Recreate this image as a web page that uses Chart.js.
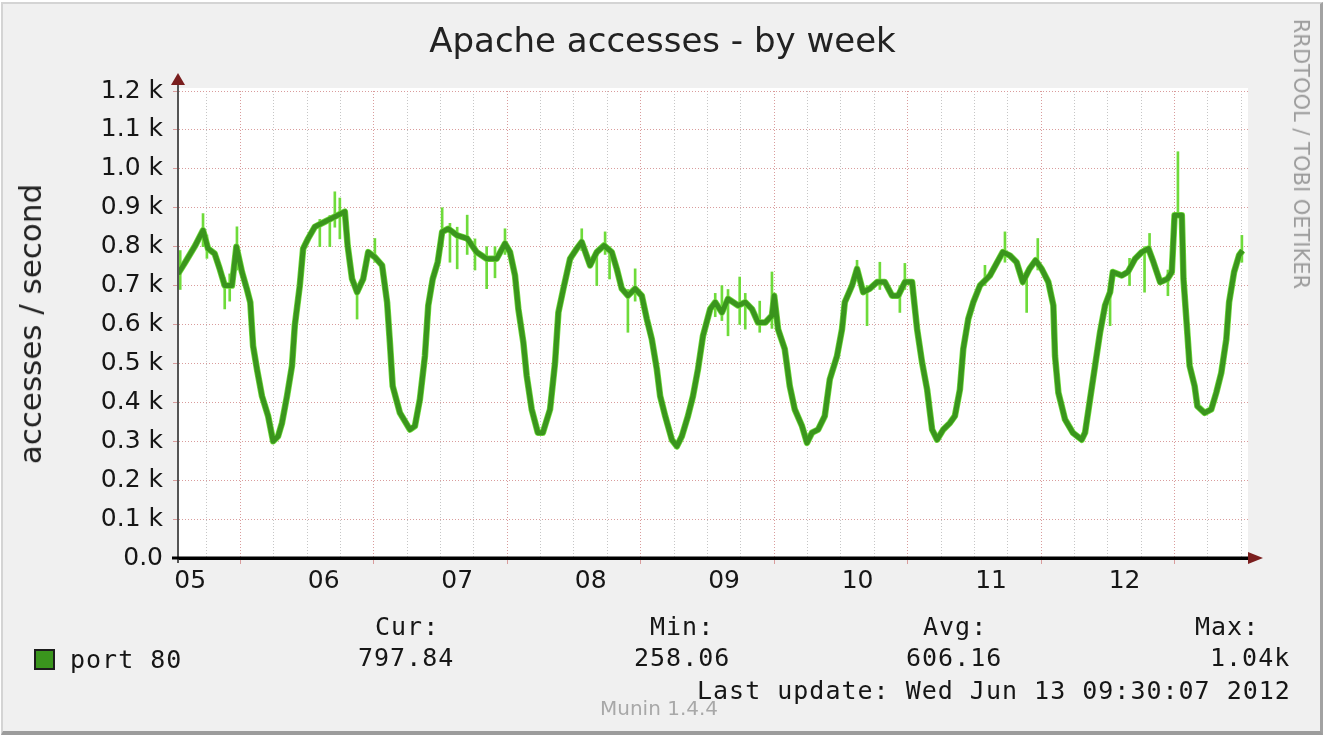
<!DOCTYPE html>
<html>
<head>
<meta charset="utf-8">
<title>Apache accesses - by week</title>
<script src="https://cdn.jsdelivr.net/npm/chart.js@4.4.1/dist/chart.umd.min.js"></script>
<style>
  html, body { margin: 0; padding: 0; background: #fff; }
  #frame { position: relative; width: 1325px; height: 736px; overflow: hidden; }
  #bg {
    position: absolute; left: 1px; top: 2px; width: 1317px; height: 727px;
    background: #f0f0f0;
    border-top: 2px solid #d4d4d4; border-left: 2px solid #d4d4d4;
    border-right: 3px solid #a2a2a2; border-bottom: 4px solid #9c9c9c;
  }
  canvas { position: absolute; left: 0; top: 0; }
  .t { position: absolute; white-space: pre; color: #161616; }
  .sans { font-family: "DejaVu Sans", sans-serif; }
  .mono { font-family: "DejaVu Sans Mono", monospace; font-size: 25px; letter-spacing: 1px; line-height: 30px; }
  #title { left: 0; top: 20px; width: 1325px; text-align: center; font-size: 34px; line-height: 40px; color: #222; }
  #ytitle { left: 30px; top: 324px; font-size: 31px; line-height: 34px; color: #222; transform: translate(-50%, -50%) rotate(-90deg); }
  #rrd { left: 1301px; top: 154px; font-size: 21px; line-height: 24px; color: #9c9c9c; transform: translate(-50%, -50%) rotate(90deg); }
  #munin { left: 600px; top: 696px; font-size: 20px; line-height: 24px; color: #a8a8a8; }
  #box { position: absolute; left: 34px; top: 649px; width: 21px; height: 21px; box-sizing: border-box; background: #3a951d; border: 2px solid #1c1c1c; }
</style>
</head>
<body>
<div id="frame">
  <div id="bg"></div>
  <canvas id="myChart" width="1325" height="736"></canvas>
  <div class="t sans" id="title">Apache accesses - by week</div>
  <div class="t sans" id="ytitle">accesses / second</div>
  <div class="t sans" id="rrd">RRDTOOL / TOBI OETIKER</div>
  <div id="box"></div>
  <div class="t mono" style="left:70px; top:645px;">port 80</div>
  <div class="t mono" style="left:375px; top:612px;">Cur:</div>
  <div class="t mono" style="left:358px; top:643px;">797.84</div>
  <div class="t mono" style="left:650px; top:612px;">Min:</div>
  <div class="t mono" style="left:634px; top:643px;">258.06</div>
  <div class="t mono" style="left:923px; top:612px;">Avg:</div>
  <div class="t mono" style="left:906px; top:643px;">606.16</div>
  <div class="t mono" style="left:1195px; top:612px;">Max:</div>
  <div class="t mono" style="left:1210px; top:643px;">1.04k</div>
  <div class="t mono" style="left:697px; top:676px;">Last update: Wed Jun 13 09:30:07 2012</div>
  <div class="t sans" id="munin">Munin 1.4.4</div>
</div>
<script>
/* global Chart */

// hours since Jun 05 00:00
const hours = [
  9.8, 11.1, 12.9, 14.3, 15.2, 16.4, 17.3, 18.2, 19.5, 20.3, 21.3, 22.2, 22.8, 23.3,
  24.0, 24.9, 26.0, 26.9, 27.8, 28.5, 29.4, 30.3, 30.8, 31.7, 32.3, 33.2, 34.4, 36.2,
  38.0, 39.8, 40.3, 41.1, 42.0, 43.1, 44.0, 45.2, 46.5, 47.4, 47.9,
  48.4, 49.7, 51.5, 52.4, 53.3, 54.2, 54.8, 55.6, 56.5, 57.3, 58.4, 60.0, 61.8, 63.5,
  65.3, 67.1, 68.6, 69.5, 70.4, 71.0, 71.9,
  72.5, 73.4, 74.5, 75.4, 76.7, 77.6, 78.2, 79.1, 80.3, 81.5, 82.4, 83.9, 85.1, 86.4,
  87.8, 88.7, 89.6, 90.7, 92.0, 93.2, 94.1, 95.0, 95.9,
  96.5, 97.4, 98.6, 99.5, 100.4, 101.5, 102.4, 103.3, 104.2, 105.5, 106.4, 107.6, 108.7,
  110.5, 111.8, 113.0, 114.1, 115.4, 116.6, 117.0, 117.7, 118.9, 119.8,
  120.7, 122.0, 122.9, 123.8, 124.9, 126.1, 127.0, 128.3, 129.2, 129.7, 131.0, 131.9,
  133.0, 134.2, 135.5, 136.9, 138.2, 139.3, 140.5, 141.8, 142.7, 143.6,
  144.5, 145.4, 146.3, 147.4, 148.6, 149.5, 150.4, 151.0, 151.9, 152.8, 154.0, 155.8,
  157.1, 158.1, 159.4, 160.6, 161.7, 162.9, 164.0, 165.1, 166.3, 167.2, 167.5,
  168.1, 169.3, 170.7, 172.3, 172.9, 173.8, 174.7, 175.6, 176.5, 177.4, 177.9, 179.5,
  180.6, 181.9, 183.1, 184.3, 185.2, 186.4, 187.7, 188.5, 189.0, 190.3, 190.6, 191.2,
  191.7, 192.6, 193.1, 194.4, 195.6, 196.5, 197.4, 198.3, 198.8, 199.7, 200.6, 201.2
];

// accesses / second, port 80
const accesses = [
  730, 760, 803, 842, 795, 782, 743, 700, 700, 800, 735, 690, 657, 545,
  485, 416, 365, 300, 313, 347, 416, 494, 597, 700, 795, 821, 851, 864,
  877, 890, 803, 717, 683, 717, 786, 773, 752, 657, 554,
  442, 373, 330, 339, 408, 519, 649, 717, 760, 838, 846, 829, 821, 786,
  769, 769, 808, 786, 726, 640, 554,
  468, 382, 322, 322, 382, 502, 631, 692, 769, 795, 812, 752, 786, 803,
  786, 743, 692, 674, 692, 674, 614, 562, 485,
  416, 365, 304, 287, 313, 365, 416, 485, 571, 640, 657, 631, 666,
  649, 657, 640, 605, 605, 623, 674, 588, 537, 442,
  382, 339, 296, 322, 330, 365, 459, 519, 588, 657, 700, 743,
  683, 692, 709, 709, 674, 674, 709, 709, 588, 502,
  433, 330, 304, 330, 347, 365, 433, 537, 614, 657, 700, 726,
  760, 786, 777, 760, 709, 743, 765, 743, 709, 649, 519,
  425, 356, 322, 304, 322, 408, 494, 580, 649, 683, 735, 726,
  735, 769, 786, 795, 760, 709, 717, 735, 881, 881, 717, 597,
  494, 442, 390, 373, 382, 425, 476, 562, 657, 735, 778, 790
];

// short light green excursions around the line
const spikeHours = [
  10.2, 14.3, 15.0, 18.2, 19.1, 20.4, 35.3, 37.1, 38.0, 38.9, 42.0, 45.2,
  57.3, 58.7, 60.0, 61.8, 63.2, 65.3, 66.8, 68.6, 82.4, 85.1, 86.6, 87.4,
  90.7, 92.0, 106.4, 107.6, 108.7, 110.8, 111.8, 114.4, 116.6, 131.9, 133.7,
  136.0, 139.6, 140.5, 154.9, 158.5, 162.4, 164.4, 177.4, 180.9, 183.6, 184.5,
  187.8, 189.6, 201.1
];
const spikeLow = [
  690, 800, 770, 640, 660, 740, 800, 800, 850, 820, 614, 760,
  800, 760, 743, 780, 740, 692, 720, 780, 790, 700, 780, 717,
  580, 660, 620, 610, 571, 600, 588, 580, 590, 720, 597,
  690, 631, 690, 700, 760, 631, 740, 597, 700, 683, 780,
  674, 880, 760
];
const spikeHigh = [
  790, 885, 830, 720, 730, 851, 870, 880, 941, 925, 700, 821,
  900, 860, 850, 881, 820, 800, 800, 846, 846, 790, 838, 800,
  690, 743, 680, 700, 690, 722, 680, 660, 735, 765, 700,
  760, 700, 757, 752, 838, 720, 821, 690, 770, 800, 834,
  740, 1044, 829
];

// day labels, placed at noon
const dayLabels = ['05', '06', '07', '08', '09', '10', '11', '12'];

const darkGreen = '#3a951d';
const lightGreen = '#6edb3a';
const gridRed = '#d99c9c';
const gridGrey = '#c6c6c6';

const lineData = hours.map(function(h, i) { return {x: h, y: accesses[i]}; });
const spikeData = spikeHours.map(function(h, i) { return {x: h, y: [spikeLow[i], spikeHigh[i]]}; });

const plotDecor = {
  id: 'plotDecor',
  beforeDraw(chart) {
    const {ctx, chartArea: a} = chart;
    ctx.save();
    ctx.fillStyle = '#ffffff';
    ctx.fillRect(a.left, a.top - 3, a.right - a.left, a.bottom - a.top + 3);
    ctx.restore();
  },
  afterDraw(chart) {
    const {ctx, chartArea: a} = chart;
    ctx.save();
    // axis extensions and arrow heads
    ctx.strokeStyle = '#555555';
    ctx.lineWidth = 2;
    ctx.beginPath();
    ctx.moveTo(a.left, a.bottom + 5);
    ctx.lineTo(a.left, a.top - 8);
    ctx.stroke();
    ctx.fillStyle = '#7a1e1e';
    ctx.beginPath();
    ctx.moveTo(a.left, a.top - 18);
    ctx.lineTo(a.left - 7, a.top - 6);
    ctx.lineTo(a.left + 7, a.top - 6);
    ctx.closePath();
    ctx.fill();
    ctx.strokeStyle = '#000000';
    ctx.lineWidth = 3;
    ctx.beginPath();
    ctx.moveTo(a.left - 6, a.bottom);
    ctx.lineTo(a.right + 1, a.bottom);
    ctx.stroke();
    ctx.beginPath();
    ctx.moveTo(a.right + 15, a.bottom);
    ctx.lineTo(a.right, a.bottom - 6);
    ctx.lineTo(a.right, a.bottom + 6);
    ctx.closePath();
    ctx.fill();
    ctx.restore();
  }
};

var ctx = document.getElementById('myChart').getContext('2d');

var chart = new Chart(ctx, {
  type: 'line',
  data: {
    datasets: [{
      label: 'port 80',
      data: lineData,
      borderColor: darkGreen,
      borderWidth: 5,
      borderJoinStyle: 'round',
      pointRadius: 0,
      tension: 0,
      order: 0,
    },
    {
      label: 'halo',
      data: lineData,
      borderColor: lightGreen,
      borderWidth: 6.5,
      borderJoinStyle: 'round',
      pointRadius: 0,
      tension: 0,
      order: 1,
    },
    {
      type: 'bar',
      label: 'spikes',
      data: spikeData,
      backgroundColor: lightGreen,
      barThickness: 2,
      grouped: false,
      order: 2,
    }]
  },
  options: {
    responsive: false,
    animation: false,
    events: [],
    layout: { padding: { left: 0, top: 91, right: 77, bottom: 138 } },
    plugins: {
      legend: { display: false },
      tooltip: { enabled: false },
      title: { display: false }
    },
    scales: {
      x: {
        type: 'linear',
        min: 9.8,
        max: 202.2,
        offset: false,
        afterFit: function(scale) { scale.height = 40; },
        afterBuildTicks: function(scale) {
          const ticks = [];
          for (let h = 12; h <= 202; h += 6) ticks.push({value: h});
          scale.ticks = ticks;
        },
        ticks: {
          autoSkip: false,
          maxRotation: 0,
          padding: 2,
          color: '#161616',
          font: { family: 'DejaVu Sans', size: 25 },
          callback: function(value) {
            return value % 24 === 12 ? dayLabels[(value - 12) / 24] : '';
          }
        },
        grid: {
          lineWidth: 1,
          tickLength: 6,
          color: function(c) { return c.tick && c.tick.value % 24 === 0 ? gridRed : gridGrey; },
          tickColor: function(c) { return c.tick && c.tick.value % 24 === 0 ? gridRed : 'rgba(0,0,0,0)'; }
        },
        border: { display: true, color: '#000000', width: 3, dash: [1, 2] }
      },
      y: {
        min: 0,
        max: 1200,
        afterFit: function(scale) { scale.width = 178; },
        ticks: {
          stepSize: 100,
          padding: 10,
          color: '#161616',
          font: { family: 'DejaVu Sans', size: 25 },
          callback: function(value) {
            return value === 0 ? '0.0' : (value / 1000).toFixed(1) + ' k';
          }
        },
        grid: {
          lineWidth: 1,
          tickLength: 5,
          color: gridRed,
          tickColor: gridRed
        },
        border: { display: true, color: '#555555', width: 2, dash: [1, 2] }
      }
    }
  },
  plugins: [plotDecor]
});
console.log(chart);
</script>
</body>
</html>
